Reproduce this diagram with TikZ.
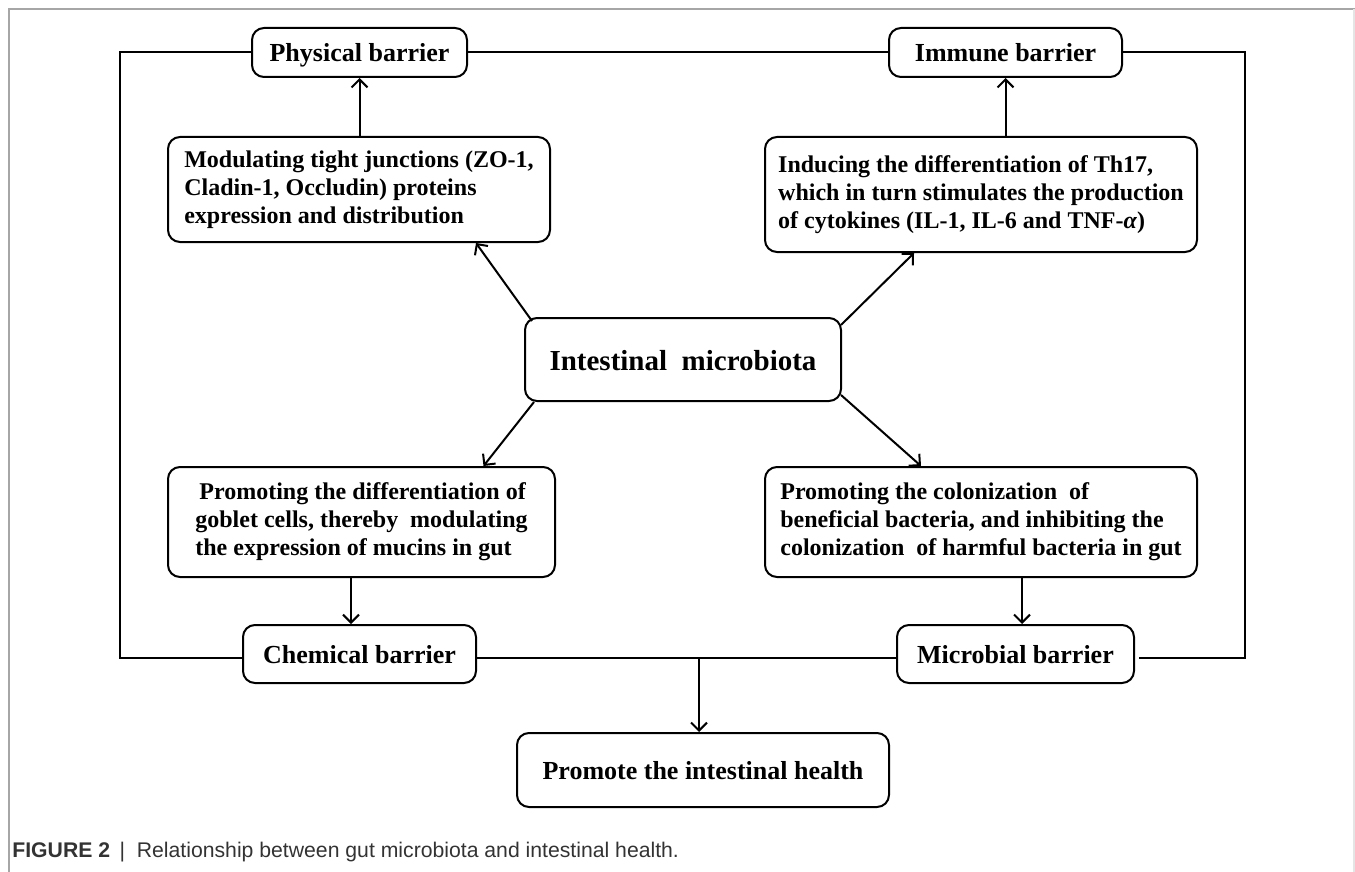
\documentclass[tikz,border=0pt]{standalone}
\usepackage{fontspec}
\setmainfont{Liberation Serif}
\newfontfamily\capfont{Liberation Sans}
\usetikzlibrary{arrows.meta}

\begin{document}
\begin{tikzpicture}[x=0.5pt,y=-0.5pt,
  barrier/.style={draw,line width=1pt,rounded corners=6pt,align=center,
                  font=\bfseries\fontsize{13}{15}\selectfont,inner sep=0pt,
                  text height=10pt,text depth=1pt},
  effect/.style={draw,line width=1pt,rounded corners=6pt,align=left,
                 font=\bfseries\fontsize{12}{14}\selectfont,inner sep=0pt},
  arr/.style={-{Straight Barb[length=4pt,width=8pt]},line width=1pt},
  link/.style={line width=1pt}]
  \useasboundingbox (0,0) rectangle (1355,872);
  \draw[gray!70,line width=0.8pt] (9,872) -- (9,9) -- (1355,9);
  \draw[gray!20,line width=0.6pt] (1354,9) -- (1354,872);

  \node[barrier,minimum width=107.5pt,minimum height=24.5pt] (phys)   at (359.5,52.5) {Physical barrier};
  \node[barrier,minimum width=116.5pt,minimum height=24.5pt] (immune) at (1005.5,52.5) {Immune barrier};
  \node[effect,minimum width=191pt,minimum height=52.5pt] (tight) at (359,189.5)
    {Modulating tight junctions (ZO-1,\\Cladin-1, Occludin) proteins\\expression and distribution};
  \node[effect,minimum width=216pt,minimum height=57.5pt] (th17) at (981,194.5)
    {Inducing the differentiation of Th17,\\which in turn stimulates the production\\of cytokines (IL-1, IL-6 and TNF-\textit{α})};
  \node[barrier,minimum width=158pt,minimum height=41.5pt,font=\bfseries\fontsize{14.5}{17}\selectfont,
        text height=11.5pt,text depth=1pt] (micro) at (683,359.5)
    {Intestinal\ \ microbiota};
  \node[effect,minimum width=193.5pt,minimum height=55pt] (goblet) at (361.5,522)
    {\hspace*{2pt}Promoting the differentiation of\\goblet cells, thereby\ \ modulating\\the expression of mucins in gut};
  \node[effect,minimum width=216pt,minimum height=55pt] (colon) at (981,522)
    {Promoting the colonization\ \ of\\beneficial bacteria, and inhibiting the\\colonization\ \ of harmful bacteria in gut};
  \node[barrier,minimum width=116.5pt,minimum height=29pt] (chem)   at (359.5,654) {Chemical barrier};
  \node[barrier,minimum width=118.5pt,minimum height=29pt] (microb) at (1015.5,654) {Microbial barrier};
  \node[barrier,minimum width=186pt,minimum height=37pt] (health) at (703,770) {Promote the intestinal health};

  \coordinate (tl) at (120,52);
  \coordinate (tr) at (1245,52);
  \coordinate (bl) at (120,658);
  \coordinate (br) at (1245,658);
  \coordinate (hub) at (699,658);

  \draw[link] (phys.west |- tl) -- (tl) -- (bl) -- (chem.west |- bl);
  \draw[link] (phys.east |- tl) -- (immune.west |- tl);
  \draw[link] (immune.east |- tl) -- (tr) -- (br) -- ([xshift=2pt]microb.east |- br);
  \draw[link] (chem.east |- bl) -- (microb.west |- bl);
  \draw[arr] (hub) -- (hub |- health.north);

  \draw[arr] (tight.north -| phys) -- (phys.south);
  \draw[arr] (th17.north -| immune) -- (immune.south);
  \draw[arr] ([xshift=-5.25pt]goblet.south) -- ([xshift=-5.25pt]goblet.south |- chem.north);
  \draw[arr] ([xshift=3.25pt]microb.north |- colon.south) -- ([xshift=3.25pt]microb.north);

  \draw[arr] ([shift={(8,4)}]micro.north west) -- ([xshift=58.5pt]tight.south);
  \draw[arr] ([shift={(-1,8)}]micro.north east) -- ([xshift=-33.5pt]th17.south);
  \draw[arr] ([shift={(10,0)}]micro.south west) -- ([xshift=61pt]goblet.north);
  \draw[arr] ([shift={(-1,-7)}]micro.south east) -- ([xshift=-30pt]colon.north);

  \node[anchor=base west,inner sep=0pt,text=black!80,font=\capfont\fontsize{10.6}{12}\selectfont] (caption) at (12,857)
    {\textbf{FIGURE 2}\ \,|\ \ Relationship between gut microbiota and intestinal health.};
\end{tikzpicture}
\end{document}
